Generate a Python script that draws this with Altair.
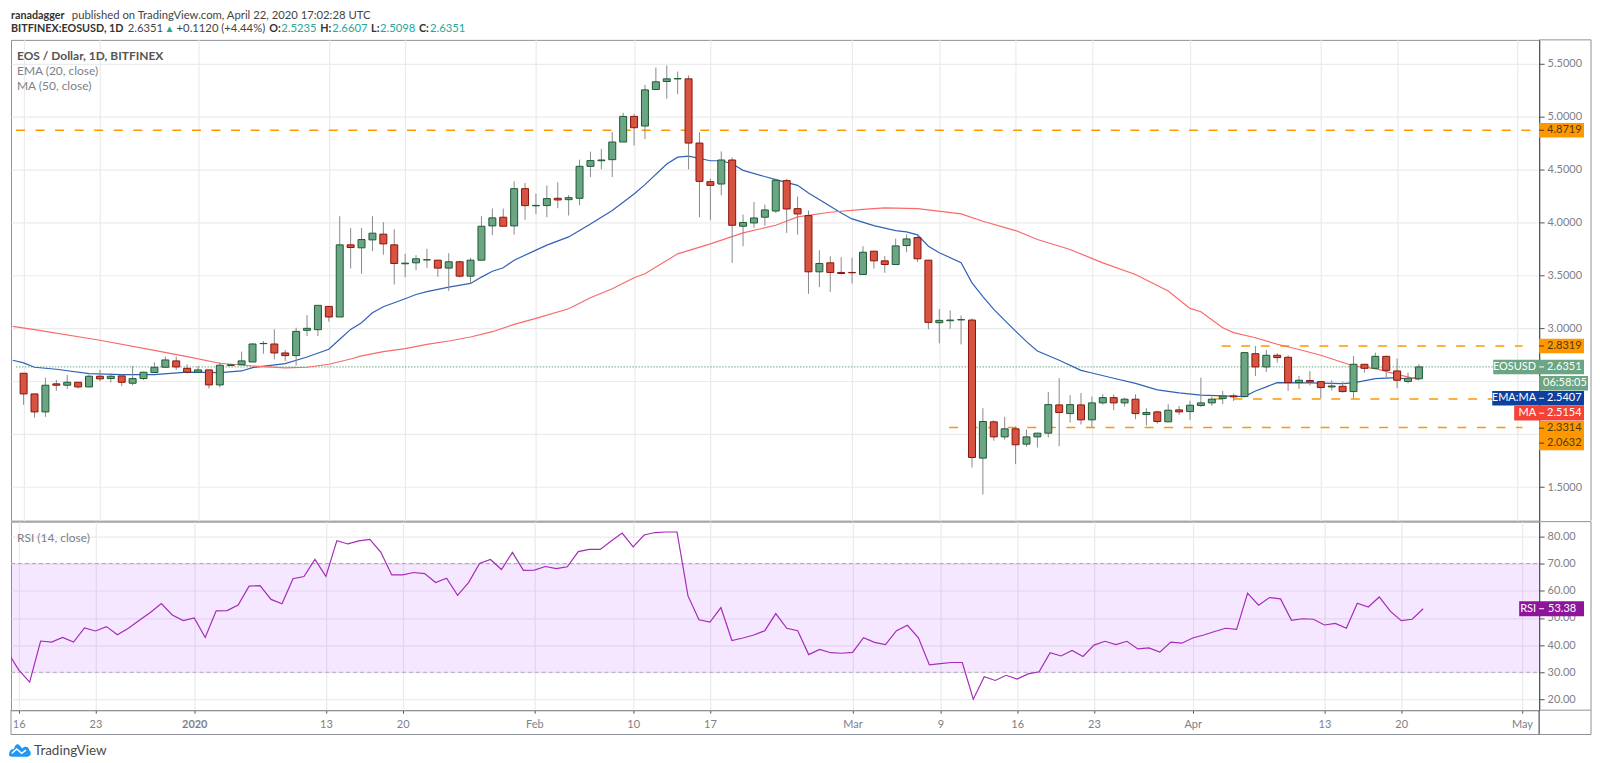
import altair as alt
import pandas as pd

# ---------- values ----------
candle_open = [2.575,2.380,2.210,2.475,2.462,2.490,2.446,2.547,2.525,2.550,
 2.481,2.525,2.582,2.632,2.692,2.622,2.585,2.607,2.465,2.648,
 2.657,2.682,2.855,2.852,2.767,2.742,2.981,2.987,3.207,3.107,
 3.789,3.761,3.836,3.890,3.789,3.610,3.619,3.647,3.644,3.569,
 3.629,3.493,3.644,3.968,4.050,3.968,4.320,4.158,4.160,4.229,
 4.216,4.229,4.531,4.584,4.594,4.761,5.003,4.912,5.257,5.333,
 5.358,5.358,4.751,4.386,4.364,4.591,3.965,3.996,4.050,4.109,
 4.396,4.131,4.065,3.534,3.619,3.528,3.528,3.509,3.729,3.638,
 3.603,3.782,3.858,3.644,3.053,3.072,3.080,3.078,1.773,2.116,
 1.974,2.050,1.905,1.974,2.009,2.276,2.194,2.276,2.135,2.295,
 2.345,2.295,2.330,2.185,2.210,2.116,2.229,2.213,2.270,2.295,
 2.336,2.361,2.355,2.760,2.635,2.745,2.726,2.487,2.506,2.496,
 2.446,2.452,2.402,2.660,2.622,2.735,2.597,2.498,2.5235]
candle_close = [2.380,2.210,2.462,2.462,2.490,2.446,2.547,2.522,2.547,2.490,
 2.525,2.585,2.632,2.701,2.635,2.585,2.607,2.465,2.651,2.655,
 2.692,2.852,2.857,2.767,2.742,2.971,3.000,3.217,3.107,3.789,
 3.764,3.839,3.899,3.798,3.613,3.616,3.657,3.648,3.569,3.629,
 3.493,3.644,3.965,4.044,3.965,4.320,4.160,4.162,4.226,4.213,
 4.235,4.531,4.585,4.591,4.761,5.003,4.896,5.254,5.330,5.358,
 5.360,4.751,4.389,4.351,4.591,3.974,4.000,4.043,4.119,4.399,
 4.128,4.081,3.534,3.613,3.528,3.518,3.525,3.719,3.638,3.603,
 3.779,3.845,3.657,3.056,3.075,3.078,3.082,1.779,2.119,1.974,
 2.050,1.899,1.974,2.009,2.279,2.204,2.279,2.135,2.295,2.345,
 2.295,2.330,2.194,2.204,2.119,2.226,2.210,2.273,2.295,2.330,
 2.358,2.352,2.770,2.635,2.745,2.723,2.487,2.509,2.493,2.440,
 2.455,2.402,2.660,2.622,2.735,2.603,2.509,2.528,2.6351]
candle_high = [2.575,2.380,2.534,2.512,2.560,2.490,2.560,2.607,2.578,2.550,
 2.644,2.590,2.679,2.733,2.733,2.660,2.644,2.607,2.679,2.655,
 2.780,2.858,2.880,2.990,2.795,3.006,3.125,3.217,3.207,4.060,
 3.946,3.949,4.060,4.003,3.937,3.704,3.691,3.751,3.648,3.710,
 3.640,3.666,4.060,4.132,4.132,4.390,4.374,4.273,4.349,4.380,
 4.260,4.594,4.670,4.695,4.855,5.037,5.028,5.301,5.465,5.484,
 5.427,5.390,4.852,4.414,4.672,4.616,4.075,4.194,4.169,4.414,
 4.414,4.245,4.113,3.738,3.682,3.672,3.666,3.776,3.729,3.682,
 3.848,3.886,3.870,3.644,3.182,3.169,3.122,3.094,2.245,2.131,
 2.163,2.070,2.043,2.009,2.399,2.528,2.367,2.389,2.355,2.377,
 2.374,2.345,2.377,2.245,2.220,2.282,2.267,2.314,2.534,2.352,
 2.408,2.383,2.776,2.833,2.795,2.764,2.745,2.550,2.597,2.500,
 2.509,2.496,2.738,2.660,2.770,2.740,2.713,2.581,2.6607]
candle_low = [2.277,2.157,2.163,2.409,2.427,2.431,2.446,2.500,2.487,2.453,
 2.462,2.512,2.582,2.632,2.607,2.572,2.585,2.430,2.440,2.648,
 2.657,2.682,2.760,2.707,2.692,2.648,2.927,2.927,3.063,3.107,
 3.566,3.515,3.729,3.695,3.415,3.484,3.550,3.572,3.487,3.354,
 3.480,3.424,3.644,3.880,3.965,3.886,4.025,4.081,4.050,4.135,
 4.066,4.163,4.430,4.503,4.430,4.761,4.729,4.789,5.257,5.170,
 5.213,4.503,4.050,4.021,4.257,3.619,3.776,3.949,3.971,4.090,
 3.902,3.886,3.326,3.389,3.345,3.510,3.424,3.509,3.565,3.525,
 3.603,3.719,3.628,2.990,2.858,2.996,2.848,1.685,1.430,1.937,
 1.949,1.716,1.880,1.874,1.968,1.886,2.109,2.091,2.062,2.279,
 2.226,2.260,2.141,2.081,2.100,2.116,2.182,2.135,2.257,2.267,
 2.283,2.314,2.355,2.550,2.587,2.676,2.408,2.427,2.460,2.339,
 2.414,2.393,2.339,2.581,2.613,2.534,2.433,2.480,2.5098]

ema_day = [-1,0,1,3,6,9,12,15,18,20,21,24,26,28,29,30,31,32,33,34,35,36,37,38,39,41,42,43,44,45,47,48,50,52,54,56,57,59,60,61,
 63,64,65,66,69,71,72,74,75,76,78,80,81,82,83,84,86,87,88,89,90,91,92,93,95,97,98,100,102,104,106,108,110,112,113,114,115,118,121,122,124,126,127,128]
ema_val = [2.698,2.673,2.632,2.613,2.572,2.563,2.563,2.585,2.582,2.597,2.629,2.666,2.729,2.802,2.896,2.990,3.053,3.147,3.204,3.242,3.280,3.320,3.346,3.368,3.390,3.424,3.484,3.540,3.572,3.644,3.739,3.786,3.864,3.987,4.113,4.270,4.358,4.553,4.618,4.627,
 4.584,4.584,4.556,4.493,4.405,4.351,4.279,4.153,4.090,4.034,3.971,3.924,3.911,3.883,3.776,3.715,3.619,3.430,3.300,3.179,3.075,2.974,2.874,2.786,2.698,2.603,2.578,2.528,2.480,2.418,2.390,2.368,2.361,2.355,2.408,2.446,2.487,2.484,2.478,2.484,2.525,2.534,2.518,2.5407]

ma_day = [-1,1,7,12,15,18,21,24,26,28,30,31,33,35,37,39,41,43,45,47,50,52,54,56,57,60,63,66,69,71,74,77,79,82,86,88,91,93,96,99,102,105,107,108,110,111,113,115,117,119,122,124,126,128]
ma_val = [3.019,2.987,2.887,2.792,2.732,2.670,2.644,2.626,2.632,2.660,2.710,2.739,2.780,2.808,2.849,2.880,2.918,2.968,3.037,3.094,3.185,3.289,3.374,3.478,3.515,3.704,3.798,3.902,3.974,4.053,4.097,4.125,4.138,4.131,4.081,4.012,3.924,3.839,3.745,3.619,3.509,3.352,3.188,3.157,3.006,2.959,2.911,2.849,2.800,2.745,2.644,2.619,2.565,2.5154]

rsi_val = [37.4,30.9,26.4,41.5,41.1,42.8,41.1,46.3,45.2,46.8,43.8,46.2,49.1,52.0,55.3,51.1,49.0,50.0,42.8,52.6,52.7,54.7,61.7,61.9,56.8,55.2,64.4,65.2,71.5,65.3,
 78.4,77.2,78.3,78.9,74.2,65.8,65.8,66.7,66.3,63.0,64.6,58.3,63.0,70.0,71.5,67.8,74.1,67.5,67.6,
 68.9,68.1,68.8,74.4,75.2,75.2,78.3,81.2,76.1,80.5,81.4,81.6,81.6,58.1,49.3,48.5,53.8,41.7,42.6,43.7,45.3,51.6,46.2,45.3,36.5,38.4,37.2,37.0,37.3,42.7,41.0,40.2,45.3,47.3,42.7,32.7,33.2,33.6,33.6,20.1,28.4,27.0,28.9,27.5,29.4,30.2,37.2,36.0,
 38.0,35.8,40.0,41.4,40.2,41.4,38.6,39.0,37.4,41.1,40.7,42.6,43.7,45.0,46.2,45.8,59.1,54.7,57.5,57.0,49.1,49.7,49.5,47.4,48.0,46.2,55.4,54.0,57.7,52.5,49.0,49.5,53.38]

tick_days = [0,7,16,28,35,47,56,63,76,84,91,98,107,119,126,137]
tick_text = ["16","23","2020","13","20","Feb","10","17","Mar","9","16","23","Apr","13","20","May"]
price_ticks = [1.5,2.0,2.5,3.0,3.5,4.0,4.5,5.0,5.5]
rsi_ticks = [20,30,40,50,60,70,80]

level_y = [4.8719,2.8319,2.3314,2.0632]
level_from = [-0.7,109.9,109.2,84.9]
level_to = [138.57,137.5,138.3,137.5]

# ---------- layout ----------
W, H1, H2 = 1532, 482, 189
BOTTOM = 213.4
XDOM = [-0.7, 138.57]
PDOM = [1.182, 5.7264]
RDOM = [16.07, 85.4]
FONT = "Lato"
GRID = "#ebebec"
LBL = "#7d7f88"
FRAME = "#8f9198"
DARK = "#50535e"
GREEN = "#6ba583"
RED = "#d75442"

xs = alt.Scale(domain=XDOM, nice=False, zero=False)
ys = alt.Scale(domain=PDOM, nice=False, zero=False)
rs = alt.Scale(domain=RDOM, nice=False, zero=False)

label_map = "{" + ",".join(f"'{d}':'{t}'" for d, t in zip(tick_days, tick_text)) + "}[datum.value]"

x_grid_axis = alt.Axis(values=tick_days, labels=False, ticks=False, domain=False, title=None,
                       grid=True, gridColor=GRID, gridWidth=1.2)
# the 2.0 and 2.5 labels are covered by the price tags in the reference
y_axis = alt.Axis(orient="right", values=price_ticks, title=None, grid=True,
                  labelExpr="(datum.value == 2 || datum.value == 2.5) ? '' : format(datum.value, '.4f')",
                  gridColor=GRID, gridWidth=1.2, domainColor=DARK, domainWidth=1.2, tickColor=DARK,
                  tickSize=5, labelColor=LBL, labelFont=FONT, labelFontSize=11, labelPadding=3)
x_axis = alt.Axis(values=tick_days, labelExpr=label_map, title=None, grid=True, gridColor=GRID, gridWidth=1.2,
                  domainColor=FRAME, tickColor=DARK, tickSize=3, labelColor=LBL, labelFont=FONT,
                  labelFontSize=11, labelPadding=5, labelFlush=False,
                  labelFontWeight={"condition": {"test": "datum.value == 16", "value": "bold"}, "value": "normal"})
r_axis = alt.Axis(orient="right", values=rsi_ticks, format=".2f", title=None, grid=True,
                  gridColor=GRID, gridWidth=1.2, domainColor=DARK, domainWidth=1.2, tickColor=DARK,
                  tickSize=5, labelColor=LBL, labelFont=FONT, labelFontSize=11, labelPadding=3)

PX = alt.X("i:Q", scale=xs, axis=x_grid_axis)
RX = alt.X("i:Q", scale=xs, axis=x_axis)


def py(f):
    return alt.Y(f, scale=ys, axis=y_axis)


def ry(f):
    return alt.Y(f, scale=rs, axis=r_axis)


df = pd.DataFrame({"i": range(len(candle_open)), "o": candle_open, "c": candle_close,
                   "h": candle_high, "l": candle_low})
df["dir"] = ["up" if c >= o else "down" for o, c in zip(candle_open, candle_close)]


def txt(s, x, y, color="#555", weight="normal", size=11.3, align="left"):
    return alt.Chart(pd.DataFrame({"t": [s]})).mark_text(
        align=align, baseline="middle", font=FONT, fontSize=size, color=color, fontWeight=weight
    ).encode(text="t:N", x=alt.value(x), y=alt.value(y))


def hrule(x0, x1, y, color=FRAME, w=1):
    return alt.Chart(pd.DataFrame({"a": [0]})).mark_rule(color=color, strokeWidth=w).encode(
        x=alt.value(x0), x2=alt.value(x1), y=alt.value(y))


def vrule(x, y0, y1, color=FRAME, w=1):
    return alt.Chart(pd.DataFrame({"a": [0]})).mark_rule(color=color, strokeWidth=w).encode(
        x=alt.value(x), y=alt.value(y0), y2=alt.value(y1))


def tag(center, x0, x1, fill, yenc, half):
    d = pd.DataFrame({"y": [center - half], "y2": [center + half]})
    return alt.Chart(d).mark_rect(color=fill).encode(
        x=alt.value(x0), x2=alt.value(x1), y=yenc("y:Q"), y2="y2:Q")


def tag_tick(center, color, yenc):
    d = pd.DataFrame({"y": [center]})
    return alt.Chart(d).mark_rule(color=color, strokeWidth=1).encode(
        x=alt.value(1532), x2=alt.value(1537), y=yenc("y:Q"))


def tag_text(s, center, x, color, yenc, weight="normal", align="left"):
    d = pd.DataFrame({"y": [center], "t": [s]})
    return alt.Chart(d).mark_text(align=align, baseline="middle", font=FONT, fontSize=11,
                                  color=color, fontWeight=weight).encode(
        x=alt.value(x), y=yenc("y:Q"), text="t:N")


# ---------- price panel ----------
wicks = alt.Chart(df).mark_rule(color="#8a8a8c", strokeWidth=1).encode(x=PX, y=py("l:Q"), y2="h:Q")

bodies = alt.Chart(df).mark_bar(size=7, strokeWidth=1).encode(
    x=PX, y=py("o:Q"), y2="c:Q",
    color=alt.Color("dir:N", scale=alt.Scale(domain=["up", "down"], range=[GREEN, RED]), legend=None),
    stroke=alt.Stroke("dir:N", scale=alt.Scale(domain=["up", "down"], range=["#1d5a33", "#8a140c"]), legend=None))

ema_line = alt.Chart(pd.DataFrame({"i": ema_day, "y": ema_val})).mark_line(
    color="#2f62b5", strokeWidth=1.2, clip=True).encode(x=PX, y=py("y:Q"))
ma_line = alt.Chart(pd.DataFrame({"i": ma_day, "y": ma_val})).mark_line(
    color="#f96a6a", strokeWidth=1.2, clip=True).encode(x=PX, y=py("y:Q"))

levels = alt.Chart(pd.DataFrame({"i": level_from, "i2": level_to, "y": level_y})).mark_rule(
    color="#ff9800", strokeWidth=1.5, strokeDash=[9, 10.6]).encode(x=PX, x2="i2:Q", y=py("y:Q"))

last_line = alt.Chart(pd.DataFrame({"i": [XDOM[0]], "i2": [XDOM[1]], "y": [candle_close[-1]]})).mark_rule(
    color=GREEN, strokeWidth=1, strokeDash=[1.5, 1.5]).encode(x=PX, x2="i2:Q", y=py("y:Q"))

TAG = 0.069
ORANGE = "#ff9800"
BROWN = "#4d3a10"
price_tags = [
    tag(1.9855, 1532, 1577, ORANGE, py, 0.139),
    tag(4.8719, 1532, 1577, ORANGE, py, TAG),
    tag(2.833, 1532, 1577, ORANGE, py, TAG),
    tag(2.635, 1486, 1577, GREEN, py, TAG),
    tag(2.481, 1532, 1581, GREEN, py, TAG),
    tag(2.339, 1485, 1577, "#0d3f9f", py, TAG),
    tag(2.198, 1507, 1577, "#f44336", py, TAG),
    tag_tick(4.8719, BROWN, py), tag_tick(2.833, BROWN, py), tag_tick(2.635, "white", py),
    tag_tick(2.339, "white", py), tag_tick(2.198, "white", py),
    tag_tick(2.056, BROWN, py), tag_tick(1.915, BROWN, py),
    tag_text("4.8719", 4.8719, 1540, BROWN, py),
    tag_text("2.8319", 2.833, 1540, BROWN, py),
    tag_text("EOSUSD", 2.635, 1529, "white", py, align="right"),
    tag_text("2.6351", 2.635, 1540, "white", py),
    tag_text("06:58:05", 2.481, 1536, "white", py),
    tag_text("EMA:MA", 2.339, 1529, "white", py, align="right"),
    tag_text("2.5407", 2.339, 1540, "white", py),
    tag_text("MA", 2.198, 1529, "white", py, align="right"),
    tag_text("2.5154", 2.198, 1540, "white", py),
    tag_text("2.3314", 2.056, 1540, BROWN, py),
    tag_text("2.0632", 1.915, 1540, BROWN, py),
]

header = [
    alt.Chart(pd.DataFrame({"a": [0]})).mark_rule(opacity=0).encode(
        x=alt.value(0), y=alt.value(-30), y2=alt.value(0)),
    txt("ranadagger", 0, -24, "#333", "bold", 10.8),
    txt("published on TradingView.com, April 22, 2020 17:02:28 UTC", 61, -24, "#444"),
    txt("BITFINEX:EOSUSD, 1D", 0, -11, "#333", "bold", 10.8),
    txt("2.6351", 117, -11, "#444"),
    txt("\u25b2", 154, -11, "#26a69a", size=10),
    txt("+0.1120 (+4.44%)", 166, -11, "#444"),
    txt("O:", 259, -11, "#333", "bold", 10.8),
    txt("2.5235", 271, -11, "#26a69a"),
    txt("H:", 310, -11, "#333", "bold", 10.8),
    txt("2.6607", 322, -11, "#26a69a"),
    txt("L:", 361, -11, "#333", "bold", 10.8),
    txt("2.5098", 370, -11, "#26a69a"),
    txt("C:", 409, -11, "#333", "bold", 10.8),
    txt("2.6351", 420, -11, "#26a69a"),
    txt("EOS / Dollar, 1D, BITFINEX", 6, 16, "#555", "bold", 12),
    txt("EMA (20, close)", 6, 31, "#7d7f88", size=12),
    txt("MA (50, close)", 6, 46, "#7d7f88", size=12),
]

price = alt.layer(
    levels, last_line, ema_line, ma_line, wicks, bodies,
    hrule(1532, 1584, 0), vrule(1584, 0, H1),
    *price_tags, *header,
).properties(width=W, height=H1)

# ---------- RSI panel ----------
rsi_df = pd.DataFrame({"i": list(range(-1, len(rsi_val) - 1)), "y": rsi_val})
rsi_line = alt.Chart(rsi_df).mark_line(color="#a52bb8", strokeWidth=1.2, clip=True).encode(x=RX, y=ry("y:Q"))

band = alt.Chart(pd.DataFrame({"i": [XDOM[0]], "i2": [XDOM[1]], "y": [30], "y2": [70]})).mark_rect(
    color="#9915ff", opacity=0.1).encode(x=RX, x2="i2:Q", y=ry("y:Q"), y2="y2:Q")
band_lines = alt.Chart(pd.DataFrame({"i": [XDOM[0]] * 2, "i2": [XDOM[1]] * 2, "y": [30, 70]})).mark_rule(
    color="#b8a4c0", strokeWidth=1, strokeDash=[4, 3]).encode(x=RX, x2="i2:Q", y=ry("y:Q"))

logo = alt.Chart(pd.DataFrame({"a": [0]})).mark_point(
    shape="M-1,0.45 C-1,0.05 -0.8,-0.1 -0.55,-0.1 C-0.45,-0.55 -0.2,-0.65 0,-0.4 L0.2,-0.15 C0.4,-0.4 0.85,-0.35 0.85,0.05 C1.1,0.15 1,0.6 0.7,0.6 L-0.7,0.6 C-0.9,0.6 -1,0.55 -1,0.45 Z",
    filled=True, color="#2196f3", size=480, opacity=1).encode(x=alt.value(9), y=alt.value(229))
logo_mark = alt.Chart(pd.DataFrame({"a": [0]})).mark_point(
    shape="M-0.75,0.3 L-0.3,-0.1 L0.15,0.3 L0.55,0.0",
    filled=False, color="white", size=480, strokeWidth=1.5, opacity=1).encode(x=alt.value(9), y=alt.value(229))

rsi = alt.layer(
    band, band_lines, rsi_line,
    hrule(1532, 1584, 0), hrule(1532, 1584, H2), vrule(1584, 0, BOTTOM),
    vrule(0, H2, BOTTOM), vrule(W, H2, BOTTOM, DARK, 1.2), hrule(0, 1584, BOTTOM),
    tag(53.38, 1512, 1577, "#8e1599", ry, 2.75),
    tag_tick(53.38, "white", ry),
    tag_text("RSI", 53.38, 1529, "white", ry, align="right"),
    tag_text("53.38", 53.38, 1541, "white", ry),
    txt("RSI (14, close)", 6, 16, "#7d7f88", size=12),
    logo, logo_mark,
    txt("TradingView", 23, 230, "#4a4a4a", size=13.5),
).properties(width=W, height=H2)

chart = alt.vconcat(price, rsi, spacing=-1).properties(
    padding={"left": 0, "top": 0, "right": 0, "bottom": 0}, background="white"
).configure_view(stroke=FRAME, strokeWidth=1)

chart.save("out.html", embed_options={"renderer": "svg", "actions": False})
